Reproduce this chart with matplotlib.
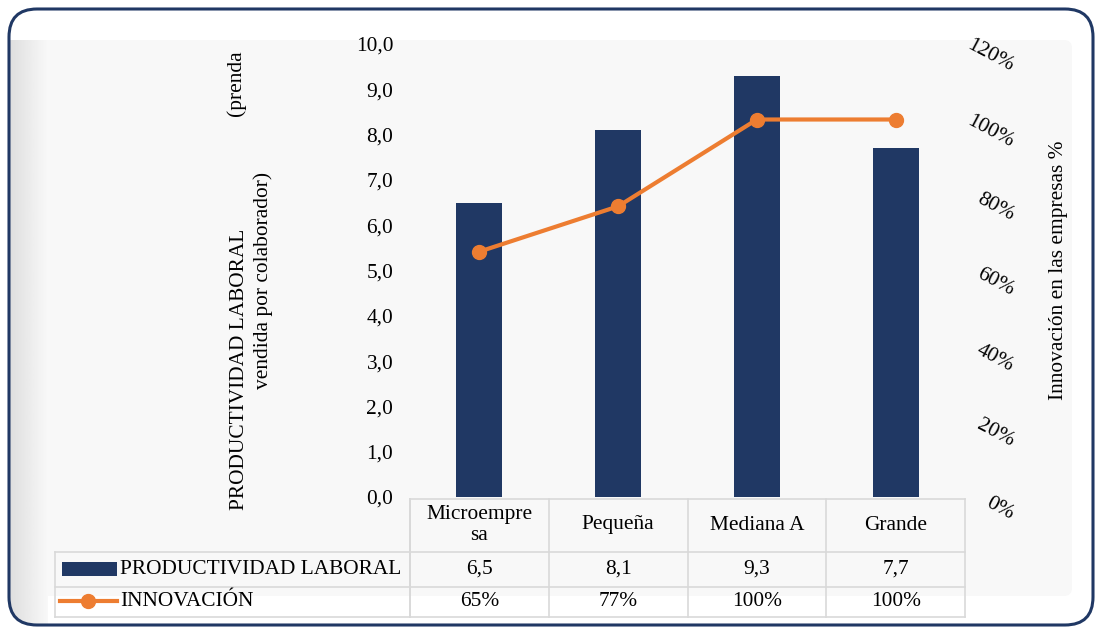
import numpy as np
import matplotlib.pyplot as plt
from matplotlib.patches import FancyBboxPatch, Rectangle
from matplotlib.lines import Line2D
from matplotlib.transforms import blended_transform_factory, offset_copy
from matplotlib.ticker import FuncFormatter, MultipleLocator

plt.rcParams["font.family"] = ["Liberation Serif", "DejaVu Serif"]

categories = ["Microempre\nsa", "Pequeña", "Mediana A", "Grande"]
productividad = [6.5, 8.1, 9.3, 7.7]
innovacion = [0.65, 0.77, 1.00, 1.00]

NAVY = "#203864"
ORANGE = "#ED7D31"
GRID = "#D9D9D9"
FS = 15.4

W, H = 1101, 628
fig = plt.figure(figsize=(W / 100, H / 100), dpi=100)

# background layer in pixel units for the frame and the table
bg = fig.add_axes([0, 0, 1, 1])
bg.set_xlim(0, W)
bg.set_ylim(H, 0)
bg.axis("off")
frame = FancyBboxPatch((9, 9), 1084, 616, boxstyle="round,pad=0,rounding_size=28",
                       fc="white", ec="none")
bg.add_patch(frame)
inner = FancyBboxPatch((11, 40), 1061, 556, boxstyle="round,pad=0,rounding_size=8",
                       fc="#F8F8F8", ec="none")
bg.add_patch(inner)
inner.set_clip_path(frame)
# soft shading down the left edge
shade = np.linspace(0.87, 0.973, 64).reshape(1, -1)
img = bg.imshow(shade, cmap="gray", vmin=0, vmax=1, extent=(9, 48, 624, 40),
                aspect="auto", zorder=1)
img.set_clip_path(frame)
bg.add_patch(FancyBboxPatch((9, 9), 1084, 616, boxstyle="round,pad=0,rounding_size=28",
                            fc="none", ec=NAVY, lw=2.2, zorder=3))

# plot area
left, right, top, bottom = 410, 965, 44, 497
ax = fig.add_axes([left / W, (H - bottom) / H, (right - left) / W, (bottom - top) / H])
ax.set_facecolor("none")
x = range(len(categories))
ax.bar(x, productividad, width=0.33, color=NAVY, zorder=2)
ax.set_xlim(-0.5, len(categories) - 0.5)
ax.set_ylim(0, 10)
ax.yaxis.set_major_locator(MultipleLocator(1))
ax.yaxis.set_major_formatter(FuncFormatter(lambda v, _: f"{v:.1f}".replace(".", ",")))
ax.set_xticks([])
ax.tick_params(axis="y", length=0, pad=12, labelsize=FS)
for s in ax.spines.values():
    s.set_visible(False)

ax2 = ax.twinx()
ax2.plot(x, innovacion, color=ORANGE, lw=3, marker="o", ms=10, zorder=3)
ax2.set_ylim(0, 1.2)
ax2.yaxis.set_major_locator(MultipleLocator(0.2))
ax2.tick_params(axis="y", length=0, labelright=False)
for s in ax2.spines.values():
    s.set_visible(False)

# slanted percentage labels, right-aligned a little below each tick
pct_tr = offset_copy(blended_transform_factory(bg.transData, ax2.transData), fig=fig,
                     x=0, y=-12, units="dots")
for v in ax2.get_yticks():
    if 0 <= v <= 1.2 + 1e-9:
        ax2.text(1017, v, f"{v:.0%}", transform=pct_tr, rotation=-28,
                 ha="right", va="center", fontsize=FS)

# axis titles
bg.text(239, 510, "PRODUCTIVIDAD LABORAL", rotation=90, ha="center", va="bottom", fontsize=FS)
bg.text(236, 50, "(prenda", rotation=90, ha="center", va="top", fontsize=FS)
bg.text(263, 280, "vendida por colaborador)", rotation=90, ha="center", va="center", fontsize=FS)
bg.text(1058, 270, "Innovación en las empresas %", rotation=90, ha="center", va="center", fontsize=FS)

# data table under the axis
tr = blended_transform_factory(ax.transData, bg.transData)
row_y = [525, 569, 601]
h_lines = [(499, left), (552, 55), (587, 55), (617, 55)]
for yy, x0 in h_lines:
    bg.plot([x0, right], [yy, yy], color=GRID, lw=1.2, zorder=2)
for xx in [55, left]:
    bg.plot([xx, xx], [552 if xx == 55 else 499, 617], color=GRID, lw=1.2, zorder=2)
for i in range(len(categories) + 1):
    ax.plot([i - 0.5, i - 0.5], [499, 617], color=GRID, lw=1.2, transform=tr, clip_on=False)

for i, cat in enumerate(categories):
    ax.text(i, row_y[0], cat, transform=tr, ha="center", va="center", fontsize=FS, linespacing=1.2)
    ax.text(i, row_y[1], f"{productividad[i]:.1f}".replace(".", ","), transform=tr,
            ha="center", va="center", fontsize=FS)
    ax.text(i, row_y[2], f"{innovacion[i]:.0%}", transform=tr,
            ha="center", va="center", fontsize=FS)

# legend keys in the row headers
bg.add_patch(Rectangle((62, 562), 55, 14, fc=NAVY, ec="none", zorder=2))
bg.add_line(Line2D([60, 117], [601, 601], color=ORANGE, lw=3, zorder=2))
bg.add_line(Line2D([88], [601], color=ORANGE, marker="o", ms=10, zorder=2))
bg.text(120, row_y[1], "PRODUCTIVIDAD LABORAL", ha="left", va="center", fontsize=FS)
bg.text(120, row_y[2], "INNOVACIÓN", ha="left", va="center", fontsize=FS)

fig.savefig("out.png", dpi=100)
